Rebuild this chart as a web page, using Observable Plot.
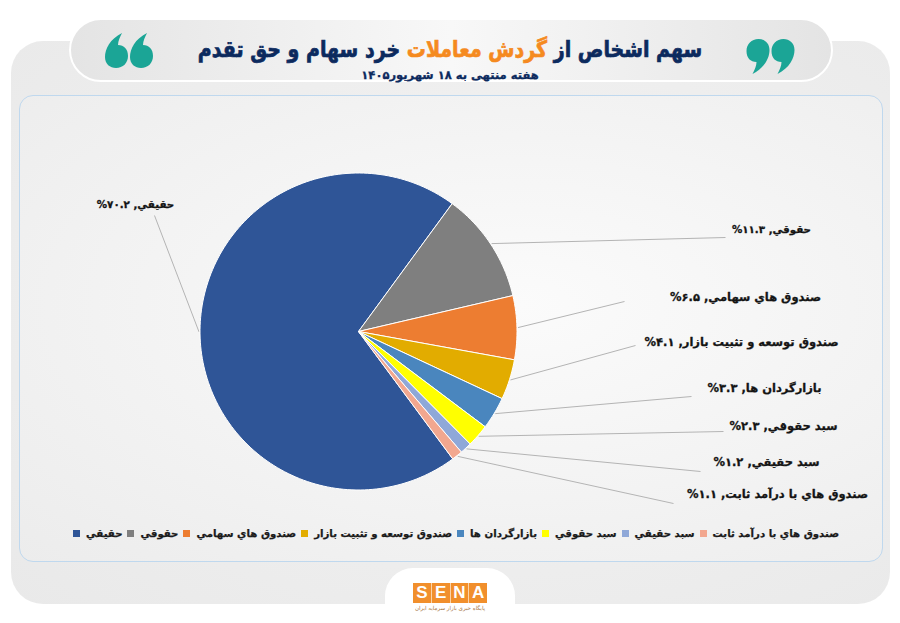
<!DOCTYPE html>
<html lang="fa">
<head>
<meta charset="utf-8">
<script src="https://cdn.jsdelivr.net/npm/d3@7"></script>
<script src="https://cdn.jsdelivr.net/npm/@observablehq/plot@0.6"></script>
<style>
html,body{margin:0;padding:0;background:#fff}
body{width:900px;height:623px;position:relative;overflow:hidden;font-family:"DejaVu Sans",sans-serif;font-weight:700}
.abs{position:absolute}
#outer{left:11px;top:41px;width:879px;height:563px;border-radius:32px;background:radial-gradient(ellipse at 55% 45%,#f4f4f4 0%,#e9e9e9 100%)}
#inner{left:19px;top:95px;width:862px;height:465px;border:1.5px solid #bfd8ee;border-radius:14px;background:radial-gradient(ellipse at 58% 45%,#fbfbfb 0%,#f2f2f2 60%,#ececec 100%)}
#pill{left:69px;top:18px;width:760px;height:60px;border:2px solid #fff;border-radius:32px;background:linear-gradient(90deg,#e4e4e4 0%,#f8f8f8 50%,#e4e4e4 100%)}
#title{left:0;width:900px;top:33px;text-align:center;direction:rtl;font-size:19px;line-height:32px;color:#0c2a5e;white-space:nowrap;-webkit-text-stroke:.6px #0c2a5e;transform:scaleY(1.2)}
#title span{color:#f58a1f;-webkit-text-stroke:.6px #f58a1f}
#sub{left:0;width:900px;top:66px;text-align:center;direction:rtl;font-size:11.5px;line-height:18px;color:#0c2a5e;white-space:nowrap;-webkit-text-stroke:.3px #0c2a5e}
#foot{left:385px;top:568px;width:130px;height:60px;border-radius:28px 28px 0 0;background:#fff}
#logo{left:413px;top:583px;width:74px;height:20px;display:flex;background:#f18f2c}
#logo b{flex:1;text-align:center;color:#fff;font:700 17px/20px "Liberation Sans",sans-serif;border-left:1px solid #fbd3a8}
#logo b:first-child{border-left:none}
#logotag{left:385px;width:130px;top:604px;text-align:center;direction:rtl;font-size:5.5px;line-height:9px;font-weight:400;color:#a5743f;white-space:nowrap}
#chart{left:0;top:0}
#chart text{direction:rtl;unicode-bidi:embed}
#legend{left:73px;top:524px;width:766px;height:18px;display:flex;justify-content:space-between;align-items:center;font-size:10.2px;color:#1a1a1a;white-space:nowrap;-webkit-text-stroke:.25px #1a1a1a}
#legend div{display:flex;align-items:center;gap:6px}
#legend i{display:block;width:7px;height:7px}
#legend span{direction:rtl}
</style>
</head>
<body>
<div class="abs" id="outer"></div>
<div class="abs" id="inner"></div>
<div class="abs" id="pill"></div>
<svg class="abs" style="left:105px;top:33px" width="48" height="36" viewBox="0 0 48 36"><g fill="#1ba596"><path id="q" d="M17,0C5,6 0,16 0,24C0,31 5,35 11,35C18,35 23,30 23,23C23,16 19,12 13,12C13,8 15,4 17,0Z"/><use href="#q" x="25"/></g></svg>
<svg class="abs" style="left:746px;top:38px;transform:rotate(180deg)" width="49" height="36" viewBox="0 0 48 36"><g fill="#1ba596"><path d="M17,0C5,6 0,16 0,24C0,31 5,35 11,35C18,35 23,30 23,23C23,16 19,12 13,12C13,8 15,4 17,0Z"/><path transform="translate(25,0)" d="M17,0C5,6 0,16 0,24C0,31 5,35 11,35C18,35 23,30 23,23C23,16 19,12 13,12C13,8 15,4 17,0Z"/></g></svg>
<div class="abs" id="title">سهم اشخاص از <span>گردش معاملات</span> خرد سهام و حق تقدم</div>
<div class="abs" id="sub">هفته منتهی به ۱۸ شهریور۱۴۰۵</div>
<div class="abs" id="foot"></div>
<div class="abs" id="logo"><b>S</b><b>E</b><b>N</b><b>A</b></div>
<div class="abs" id="logotag">پایگاه خبری بازار سرمایه ایران</div>
<div class="abs" id="chart"></div>
<div class="abs" id="legend"></div>
<script>
// Chart values, clockwise from the first slice
const categories = ["حقيقي","حقوقي","صندوق هاي سهامي","صندوق توسعه و تثبيت بازار","بازارگردان ها","سبد حقوقي","سبد حقيقي","صندوق هاي با درآمد ثابت"];
const shares = [70.2,11.3,6.5,4.1,3.3,2.3,1.2,1.1];
const sharesText = ["۷۰.۲","۱۱.۳","۶.۵","۴.۱","۳.۳","۲.۳","۱.۲","۱.۱"];
const colors = ["#2f5597","#7f7f7f","#ed7d31","#e2ac00","#4a86be","#ffff00","#8fa8d8","#f2a78f"];
// Layout (pixels): where each callout label sits and where its leader ends
const labelX = [135,771,745,741,764,783,766,777];
const labelY = [204,229,297,342,388,426,462,494];
const labelSize = [10.3,10.3,11.5,11.5,11.5,11.5,11.5,11.5];
const leaderX = [154,725,624,635,691,723,700,673];
const leaderY = [215,237,301,345,396,431,471,503];
const legendOrder = [0,1,2,3,4,5,6,7];

const cx = 358, cy = 331, r = 158.5, startDeg = 143.5;
const pt = (deg, rad) => {const a = deg*Math.PI/180; return [cx+rad*Math.sin(a), cy-rad*Math.cos(a)];};
const total = d3.sum(shares);
let acc = startDeg;
const slices = shares.map((v,i)=>{const a0=acc,a1=acc+v/total*360; acc=a1; return {i,a0,a1,mid:(a0+a1)/2};});
const slicePts = slices.flatMap(s=>{
  const n=Math.max(4,Math.ceil((s.a1-s.a0)/1.5));
  const arc=d3.range(n+1).map(k=>pt(s.a0+(s.a1-s.a0)*k/n,r));
  return [[cx,cy],...arc,[cx,cy]].map(p=>({x:p[0],y:p[1],cat:categories[s.i]}));
});
const links = slices.map(s=>{const e=pt(s.mid,r+1);return {x1:e[0],y1:e[1],x2:leaderX[s.i],y2:leaderY[s.i]};});
const labels = categories.map((c,i)=>({x:labelX[i],y:labelY[i],fs:labelSize[i],t:`${c}, ${sharesText[i]}%`}));

const plot = Plot.plot({
  width:900,height:623,margin:0,
  style:{background:"transparent"},
  x:{domain:[0,900],range:[0,900],axis:null},
  y:{domain:[0,623],range:[0,623],axis:null},
  color:{domain:categories,range:colors},
  marks:[
    Plot.link(links,{x1:"x1",y1:"y1",x2:"x2",y2:"y2",stroke:"#b4b4b4",strokeWidth:1}),
    Plot.line(slicePts,{x:"x",y:"y",z:"cat",fill:"cat",stroke:"#fff",strokeWidth:1,curve:"linear",strokeLinejoin:"round"}),
    Plot.text(labels,{x:"x",y:"y",text:"t",fontSize:"fs",fontWeight:700,fontFamily:"DejaVu Sans",fill:"#141414",stroke:"#141414",strokeWidth:.3,textAnchor:"middle",lineAnchor:"middle"})
  ]
});
document.getElementById("chart").appendChild(plot);
const lg=document.getElementById("legend");
legendOrder.forEach(i=>{
  const d=document.createElement("div");
  d.innerHTML=`<i style="background:${colors[i]}"></i><span>${categories[i]}</span>`;
  lg.appendChild(d);
});
</script>
</body>
</html>
